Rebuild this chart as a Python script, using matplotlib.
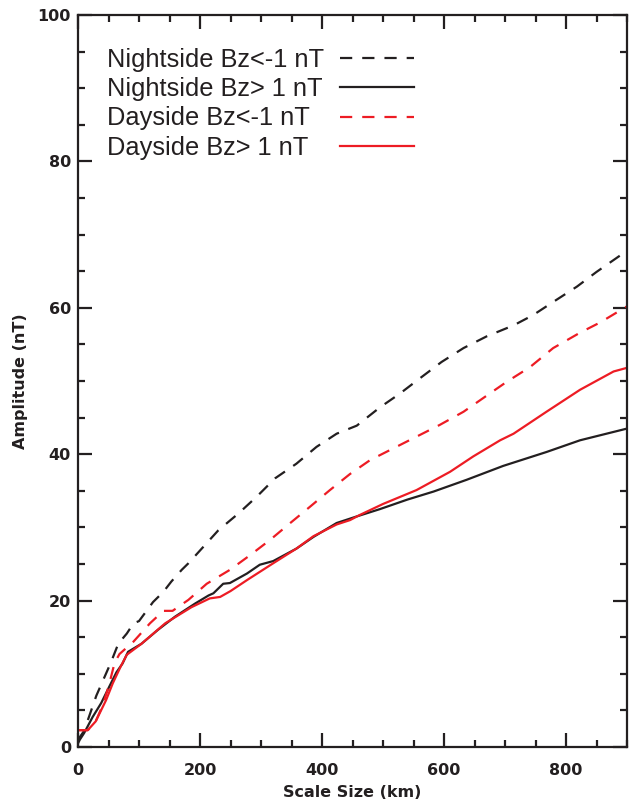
import matplotlib
matplotlib.use("Agg")
import matplotlib.pyplot as plt
from matplotlib.ticker import MultipleLocator

# Amplitude vs scale size for four IMF / local-time groups
night_neg_x = [0, 10, 20, 30, 50, 57, 66, 80, 91, 100, 123, 140, 153, 170, 181, 205, 230, 263, 293, 323,
               358, 391, 424, 457, 495, 528, 561, 596, 632, 670, 714, 746, 779, 818, 850, 900]
night_neg_y = [1.0, 2.2, 4.6, 7.0, 10.8, 12.2, 14.1, 15.5, 16.9, 17.2, 19.8, 21.2, 22.6, 24.2, 25.1, 27.3,
               29.6, 31.9, 34.2, 36.7, 38.7, 41.0, 42.8, 43.9, 46.4, 48.3, 50.4, 52.6, 54.5, 56.1, 57.6,
               59.0, 60.8, 62.9, 64.9, 67.8]

night_pos_x = [0, 3, 10, 24, 38, 51, 63, 73, 82, 104, 131, 159, 192, 214, 222, 238, 249, 277, 298, 320,
               358, 386, 424, 457, 495, 540, 583, 637, 697, 768, 823, 900]
night_pos_y = [0.5, 1.0, 1.9, 4.1, 6.0, 8.2, 10.2, 11.4, 13.0, 14.1, 16.0, 17.8, 19.6, 20.7, 21.0, 22.3,
               22.4, 23.7, 24.9, 25.4, 27.1, 28.7, 30.6, 31.5, 32.5, 33.8, 34.9, 36.5, 38.4, 40.3, 41.9,
               43.5]

day_neg_x = [0, 16, 29, 40, 50, 60, 68, 91, 118, 140, 155, 181, 211, 249, 282, 315, 348, 380, 413, 446,
             479, 517, 555, 593, 632, 670, 703, 741, 779, 823, 856, 900]
day_neg_y = [2.3, 2.3, 3.5, 5.6, 8.2, 11.5, 12.7, 14.4, 16.9, 18.6, 18.6, 20.1, 22.3, 24.2, 26.2, 28.3,
             30.6, 32.8, 35.1, 37.3, 39.2, 40.8, 42.4, 44.0, 45.8, 48.0, 49.9, 51.9, 54.5, 56.6, 58.0,
             60.2]

day_pos_x = [0, 16, 29, 46, 57, 70, 80, 104, 143, 186, 216, 233, 250, 277, 320, 358, 386, 424,
             446, 462, 500, 555, 610, 648, 692, 714, 768, 823, 878, 900]
day_pos_y = [2.3, 2.3, 3.5, 6.4, 8.7, 11.0, 12.6, 14.1, 16.9, 19.1, 20.3, 20.5, 21.3, 22.8, 25.1,
             27.1, 28.8, 30.4, 31.0, 31.7, 33.2, 35.1, 37.6, 39.7, 41.9, 42.8, 45.8, 48.8, 51.3, 51.8]

labels = ["Nightside Bz<-1 nT", "Nightside Bz> 1 nT", "Dayside Bz<-1 nT", "Dayside Bz> 1 nT"]

BLACK = "#231f20"
RED = "#ed1c24"
DASH = (5.5, 4.5)
LW = 1.6
LEG_FONT = {"family": "Liberation Sans", "size": 18.3}
LEG_SPACING = 0.20
LEG_TOP = 0.9545

fig = plt.figure(figsize=(6.30, 8.01), dpi=100)
ax = fig.add_axes([78 / 630, 54 / 801, 549 / 630, 732 / 801])

l1, = ax.plot(night_neg_x, night_neg_y, color=BLACK, lw=LW, dashes=DASH)
l2, = ax.plot(night_pos_x, night_pos_y, color=BLACK, lw=LW)
l3, = ax.plot(day_neg_x, day_neg_y, color=RED, lw=LW, dashes=DASH)
l4, = ax.plot(day_pos_x, day_pos_y, color=RED, lw=LW)
handles = [l1, l2, l3, l4]

ax.set_xlim(0, 900)
ax.set_ylim(0, 100)
ax.xaxis.set_major_locator(MultipleLocator(200))
ax.xaxis.set_minor_locator(MultipleLocator(50))
ax.yaxis.set_major_locator(MultipleLocator(20))
ax.yaxis.set_minor_locator(MultipleLocator(5))

for s in ax.spines.values():
    s.set_linewidth(1.6)
    s.set_color(BLACK)

ax.tick_params(which="both", direction="in", top=True, right=True, color=BLACK, width=1.6)
ax.tick_params(which="major", length=10)
ax.tick_params(which="minor", length=5)
ax.tick_params(axis="x", which="major", pad=11.5)
ax.tick_params(axis="y", which="major", pad=5)
for t in ax.get_xticklabels() + ax.get_yticklabels():
    t.set_fontsize(11.5)
    t.set_fontweight("bold")
    t.set_color(BLACK)

ax.set_xlabel("Scale Size (km)", fontsize=11.5, fontweight="bold", color=BLACK, labelpad=5)
ax.set_ylabel("Amplitude (nT)", fontsize=11.5, fontweight="bold", color=BLACK, labelpad=7)

# Legend: left-aligned labels with the line samples in a column to their right
leg_text = ax.legend(handles, labels, loc="upper left", bbox_to_anchor=(29 / 549, LEG_TOP),
                     frameon=False, handlelength=0, handletextpad=0, labelspacing=LEG_SPACING,
                     borderaxespad=0, borderpad=0, prop=LEG_FONT)
for h in leg_text.legend_handles:
    h.set_visible(False)
for t in leg_text.get_texts():
    t.set_color(BLACK)
ax.add_artist(leg_text)

leg_keys = ax.legend(handles, [""] * 4, loc="upper left", bbox_to_anchor=(262 / 549, LEG_TOP),
                     frameon=False, handlelength=2.9, handletextpad=0, labelspacing=LEG_SPACING,
                     borderaxespad=0, borderpad=0, prop=LEG_FONT)

fig.savefig("out.png", dpi=100)
